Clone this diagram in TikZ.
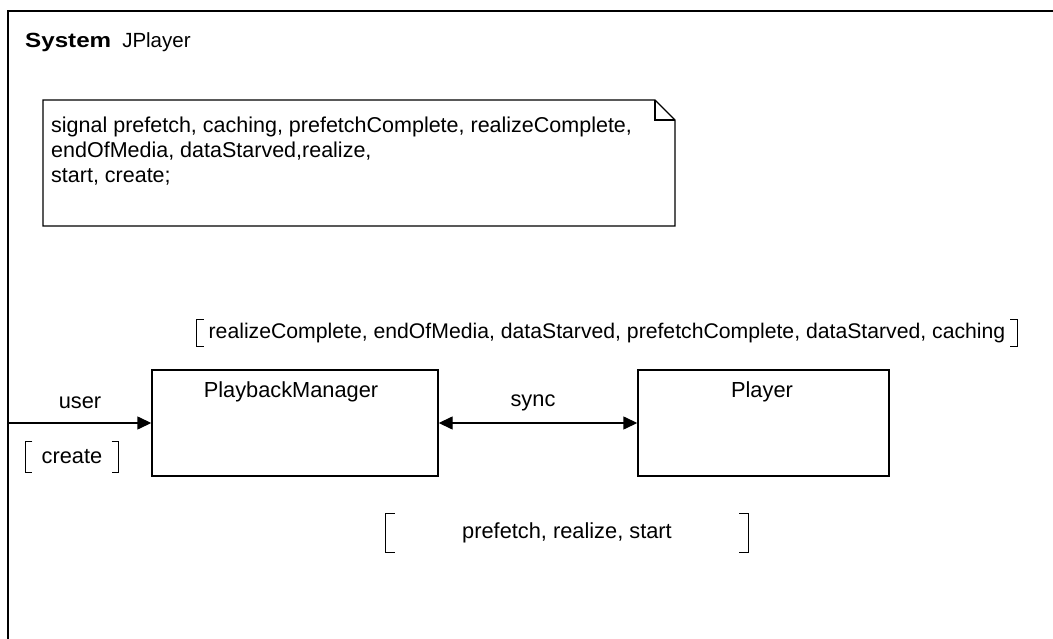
\documentclass[tikz,border=0pt]{standalone}
\usepackage{fontspec}
\setmainfont{Liberation Sans}
\usetikzlibrary{arrows.meta}
\begin{document}
\begin{tikzpicture}[x=1pt,y=-1pt,
  txt/.style={font=\fontsize{21.8}{25}\selectfont, inner sep=0pt},
  block/.style={draw, line width=1.4pt, inner sep=0pt},
  thin line/.style={line width=1.4pt},
  arr/.style={line width=1.4pt, -{Triangle[length=14pt,width=13pt]}},
  biarr/.style={line width=1.4pt, {Triangle[length=14pt,width=13pt]}-{Triangle[length=14pt,width=13pt]}},
  brk/.style={line width=1.3pt},
]
\useasboundingbox (0,0) rectangle (1053,639);

% system frame (open to the right and bottom)
\draw[line width=2.6pt] (8,639) -- (8,11) -- (1053,11);
\node[txt, font=\fontsize{20.5}{24}\selectfont, anchor=west] (title) at (25,42)
  {\scalebox{1.18}[1]{\textbf{System}}\hspace{11pt}JPlayer};

% signal declaration note with folded corner
\draw[thin line] (43,100) -- (655,100) -- (675,120) -- (675,226) -- (43,226) -- cycle;
\draw[thin line] (655,100) -- (655,120) -- (675,120);
\node[txt, font=\fontsize{21.5}{25}\selectfont, anchor=north west, align=left] (decl) at (51,117)
  {signal prefetch, caching, prefetchComplete, realizeComplete,\\
   endOfMedia, dataStarved,realize,\\
   start, create;};

% blocks
\node[block, minimum width=286pt, minimum height=106pt] (pm) at (295,423) {};
\node[txt] (pmname) at (291,392) {PlaybackManager};
\node[block, minimum width=251pt, minimum height=106pt] (player) at (763.5,423) {};
\node[txt] (playername) at (762,392) {Player};

% channels
\coordinate (env) at (8,423);
\draw[arr] (env) -- (pm.west);
\node[txt] (user) at (80,403) {user};
\draw[biarr] (pm.east) -- (player.west);
\node[txt] (sync) at (533,403) {sync};

% signal lists in square brackets
\node[txt, font=\fontsize{21.2}{25}\selectfont, minimum width=820pt, minimum height=26pt] (sigout) at (607,333)
  {realizeComplete, endOfMedia, dataStarved, prefetchComplete, dataStarved, caching};
\draw[brk] ([xshift=7pt]sigout.north west) -- (sigout.north west) -- (sigout.south west) -- ([xshift=7pt]sigout.south west);
\draw[brk] ([xshift=-7pt]sigout.north east) -- (sigout.north east) -- (sigout.south east) -- ([xshift=-7pt]sigout.south east);

\node[txt, minimum width=93pt, minimum height=30pt] (sigin) at (72,457) {create};
\draw[brk] ([xshift=7pt]sigin.north west) -- (sigin.north west) -- (sigin.south west) -- ([xshift=7pt]sigin.south west);
\draw[brk] ([xshift=-7pt]sigin.north east) -- (sigin.north east) -- (sigin.south east) -- ([xshift=-7pt]sigin.south east);

\node[txt, minimum width=362pt, minimum height=38pt] (sigsync) at (567,533) {prefetch, realize, start};
\draw[brk] ([xshift=9pt]sigsync.north west) -- (sigsync.north west) -- (sigsync.south west) -- ([xshift=9pt]sigsync.south west);
\draw[brk] ([xshift=-9pt]sigsync.north east) -- (sigsync.north east) -- (sigsync.south east) -- ([xshift=-9pt]sigsync.south east);
\end{tikzpicture}
\end{document}
